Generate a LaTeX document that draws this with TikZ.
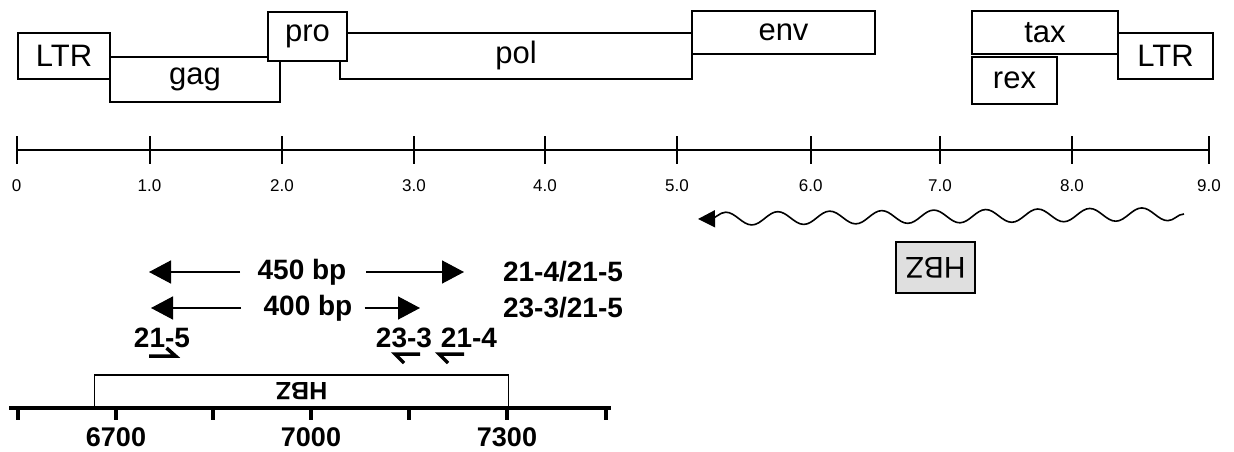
\documentclass[tikz,border=0pt]{standalone}
\usepackage{fontspec}
\setmainfont{Liberation Sans}
\usetikzlibrary{arrows.meta,decorations.pathmorphing}
\begin{document}
\begin{tikzpicture}[x=1pt,y=-1pt,
  genebox/.style={draw,line width=2pt,fill=white,inner sep=0pt,outer sep=0pt,font=\fontsize{31}{33}\selectfont},
  ticklbl/.style={font=\fontsize{17}{19}\selectfont,inner sep=0pt},
  boldlbl/.style={font=\bfseries\fontsize{28}{30}\selectfont,inner sep=0pt},
  axlbl/.style={font=\bfseries\fontsize{27}{29}\selectfont,inner sep=0pt},
  bigtip/.style={line width=1.5pt,-{Triangle[length=22pt,width=23pt]}},
  harpoon/.style={line width=3.5pt,line join=miter},
]
\useasboundingbox (0,0) rectangle (1234,452);
% ---------- genome map ----------
\node[genebox,minimum width=352,minimum height=46.3] (pol) at (516,55.9) {pol};
\node[genebox,minimum width=170,minimum height=45.6] (gag) at (195,79.5) {gag};
\node[genebox,minimum width=92,minimum height=46.3] (ltrL) at (64,55.9) {LTR};
\node[genebox,minimum width=79,minimum height=49] (pro) at (307.5,36.5) {pro};
\node[genebox,minimum width=183,minimum height=43.6] (env) at (783.5,32.5) {env};
\node[genebox,minimum width=146,minimum height=43.6] (tax) at (1045,32.5) {tax};
\node[genebox,minimum width=85,minimum height=47.3] (rex) at (1014.5,80.4) {rex};
\node[genebox,minimum width=95,minimum height=46.3] (ltrR) at (1165.5,55.9) {LTR};
% ---------- kb ruler ----------
\coordinate (r0) at (16.5,150);
\coordinate (r9) at (1209,150);
\draw[line width=2pt] (r0) -- (r9);
\foreach \x/\l [count=\i] in {16.5/0,149.5/1.0,282/2.0,414/3.0,545/4.0,677/5.0,810.7/6.0,940/7.0,1072/8.0,1209/9.0}{
  \draw[line width=2pt] (\x,136) -- (\x,164);
  \node[ticklbl] (tl\i) at (\x,186) {\l};
}
% ---------- HBZ transcript ----------
\coordinate (wr) at (1184,214);
\coordinate (wl) at (698,219);
\draw[line width=1.6pt,decorate,decoration={snake,segment length=52pt,amplitude=6.5pt,post length=4pt},
      -{Triangle[length=17pt,width=17pt]}] (wr) -- (wl);
\node[draw,line width=1.5pt,fill=gray!25,minimum width=79,minimum height=51,inner sep=0pt,
      rotate=180,font=\fontsize{30}{32}\selectfont] (hbzg) at (935.5,267.5) {HBZ};
% ---------- PCR products ----------
\node[boldlbl] (t450) at (302,272) {450 bp};
\coordinate (a450l) at (240,272); \coordinate (a450lt) at (149,272);
\coordinate (a450r) at (366,272); \coordinate (a450rt) at (464,272);
\draw[bigtip] (a450l) -- (a450lt);
\draw[bigtip] (a450r) -- (a450rt);
\node[boldlbl] (p450) at (563,272) {21-4/21-5};
\node[boldlbl] (t400) at (308,308) {400 bp};
\coordinate (a400l) at (241,308); \coordinate (a400lt) at (151,308);
\coordinate (a400r) at (364.5,308); \coordinate (a400rt) at (420,308);
\draw[bigtip] (a400l) -- (a400lt);
\draw[bigtip] (a400r) -- (a400rt);
\node[boldlbl] (p400) at (563,308) {23-3/21-5};
% ---------- primers ----------
\node[boldlbl] (pr215) at (162,338) {21-5};
\node[boldlbl] (pr233) at (404,338) {23-3};
\node[boldlbl] (pr214) at (469,338) {21-4};
\draw[harpoon] (149,356) -- (175.5,356) -- (166.5,348);
\draw[harpoon] (420,354) -- (395,354) -- (404,363);
\draw[harpoon] (464,354) -- (439,354) -- (448,363);
% ---------- HBZ region with nt axis ----------
\node[draw,line width=1.2pt,minimum width=414,minimum height=33,inner sep=0pt,rotate=180,
      font=\bfseries\fontsize{25}{27}\selectfont] (hbz) at (301.6,391.5) {HBZ};
\coordinate (ax0) at (9,408);
\coordinate (ax1) at (611,408);
\draw[line width=3.5pt] (ax0) -- (ax1);
\foreach \x in {18.4,116,213,311,409.4,507,606}{
  \draw[line width=4pt] (\x,408) -- (\x,420);
}
\node[axlbl] (n6700) at (116,437) {6700};
\node[axlbl] (n7000) at (311,437) {7000};
\node[axlbl] (n7300) at (507,437) {7300};
\end{tikzpicture}
\end{document}
